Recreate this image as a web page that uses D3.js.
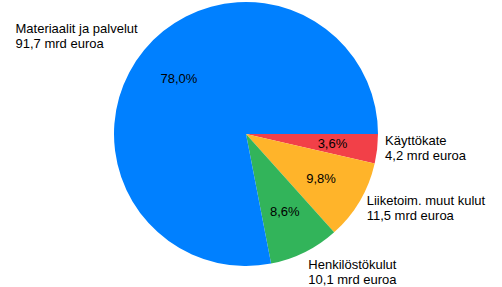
<!DOCTYPE html>
<html>
<head>
<meta charset="utf-8">
<script src="https://cdn.jsdelivr.net/npm/d3@7"></script>
<style>
  body { margin: 0; background: #fff; }
  text { font-family: "Liberation Sans", Arial, sans-serif; font-size: 13px; fill: #000; }
</style>
</head>
<body>
<svg id="chart" width="502" height="287"></svg>
<script>
  const categories = ["Käyttökate", "Liiketoim. muut kulut", "Henkilöstökulut", "Materiaalit ja palvelut"];
  const values = [4.2, 11.5, 10.1, 91.7];
  const percentLabels = ["3,6%", "9,8%", "8,6%", "78,0%"];
  const valueLabels = ["4,2 mrd euroa", "11,5 mrd euroa", "10,1 mrd euroa", "91,7 mrd euroa"];
  const colors = ["#f24048", "#ffb42a", "#32b45a", "#0080ff"];

  const data = categories.map((c, i) => ({ name: c, value: values[i], pct: percentLabels[i], label: valueLabels[i], color: colors[i] }));

  const svg = d3.select("#chart");
  const cx = 246, cy = 134, radius = 132;

  const g = svg.append("g").attr("transform", `translate(${cx},${cy})`);

  // pie starts at 3 o'clock and runs clockwise
  const pie = d3.pie()
    .sort(null)
    .value((d) => d.value)
    .startAngle(Math.PI / 2)
    .endAngle(Math.PI / 2 + 2 * Math.PI);

  const arc = d3.arc().innerRadius(0).outerRadius(radius);
  const pctArc = d3.arc().innerRadius(87).outerRadius(87);
  const outArc = d3.arc().innerRadius(140).outerRadius(140);

  const arcs = pie(data);

  g.selectAll("path")
    .data(arcs)
    .enter()
    .append("path")
    .attr("d", arc)
    .attr("fill", (d) => d.data.color);

  // percentages inside slices
  g.selectAll(".pct")
    .data(arcs)
    .enter()
    .append("text")
    .attr("class", "pct")
    .attr("transform", (d) => `translate(${pctArc.centroid(d)})`)
    .attr("text-anchor", "middle")
    .attr("dy", "0.35em")
    .text((d) => d.data.pct);

  // outside labels, two left-aligned lines, box pushed away from the pie
  const labels = g.selectAll(".lbl")
    .data(arcs)
    .enter()
    .append("text")
    .attr("class", "lbl");

  labels.each(function (d) {
    const [px, py] = outArc.centroid(d);
    const dirY = py / 140;
    const shift = 18 * dirY * Math.abs(dirY) - 5;
    const t = d3.select(this);
    t.append("tspan").attr("x", 0).attr("y", shift).text(d.data.name);
    t.append("tspan").attr("x", 0).attr("y", shift + 15).text(d.data.label);
    const w = this.getBBox().width;
    const left = px < 0 ? px - w : px;
    t.attr("transform", `translate(${left},${py})`);
  });
</script>
</body>
</html>
